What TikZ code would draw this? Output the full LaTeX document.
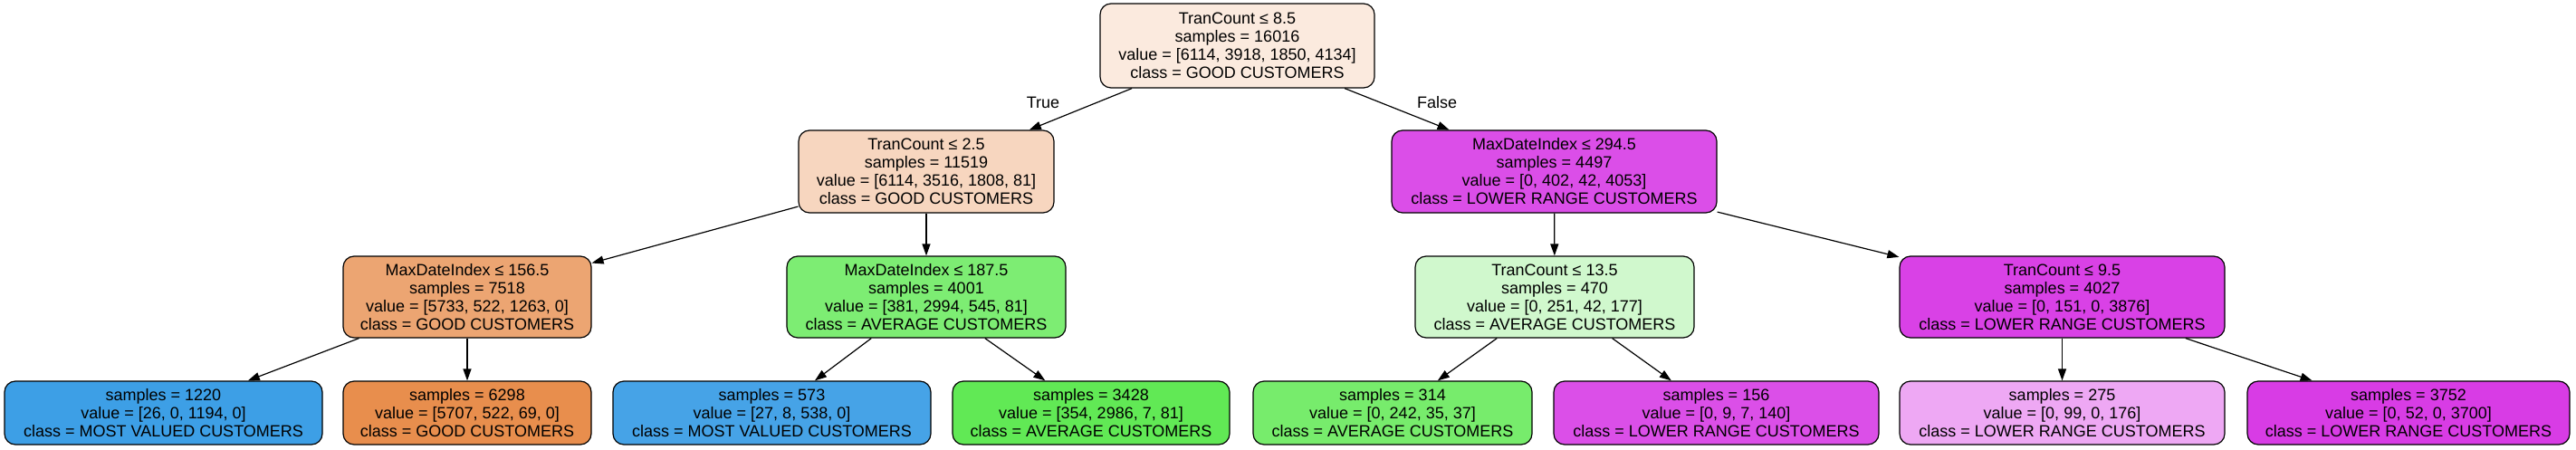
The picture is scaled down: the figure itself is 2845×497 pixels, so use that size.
\documentclass[tikz,border=0pt]{standalone}
\usepackage{fontspec}
\setmainfont{Liberation Sans}
\usetikzlibrary{arrows.meta}
\definecolor{cRoot}{HTML}{FBEADE}
\definecolor{cLa}{HTML}{F7D6BF}
\definecolor{cLb}{HTML}{DB4EE8}
\definecolor{cMa}{HTML}{ECA572}
\definecolor{cMb}{HTML}{7DED73}
\definecolor{cMc}{HTML}{D0F8CD}
\definecolor{cMd}{HTML}{D941E6}
\definecolor{cFa}{HTML}{3D9FE6}
\definecolor{cFb}{HTML}{E88E4D}
\definecolor{cFc}{HTML}{46A3E7}
\definecolor{cFd}{HTML}{61E955}
\definecolor{cFe}{HTML}{77EC6C}
\definecolor{cFf}{HTML}{DB4FE8}
\definecolor{cFg}{HTML}{EEA8F4}
\definecolor{cFh}{HTML}{D83CE5}
\tikzset{
  treebox/.style={draw=black, line width=1.2pt, rounded corners=12pt, align=center,
    inner sep=0pt, font=\fontsize{18}{20}\selectfont},
  splitbox/.style={treebox, minimum height=91pt},
  leafbox/.style={treebox, minimum height=70pt},
  edge/.style={line width=1.2pt, -{Triangle[length=13pt,width=9pt]}},
  edgelabel/.style={font=\fontsize{18}{20}\selectfont, inner sep=0pt}
}
\begin{document}
\begin{tikzpicture}[x=1pt,y=-1pt]
\useasboundingbox (0,0) rectangle (2845,497);
% level 1
\node[treebox, fill=cRoot, minimum width=303pt, minimum height=93pt] (root) at (1366.5,50.5)
  {TranCount ≤ 8.5\\samples = 16016\\value = [6114, 3918, 1850, 4134]\\class = GOOD CUSTOMERS};
% level 2
\node[splitbox, fill=cLa, minimum width=282pt] (la) at (1023,189.5)
  {TranCount ≤ 2.5\\samples = 11519\\value = [6114, 3516, 1808, 81]\\class = GOOD CUSTOMERS};
\node[splitbox, fill=cLb, minimum width=359pt] (lb) at (1716.5,189.5)
  {MaxDateIndex ≤ 294.5\\samples = 4497\\value = [0, 402, 42, 4053]\\class = LOWER RANGE CUSTOMERS};
% level 3
\node[splitbox, fill=cMa, minimum width=274pt, minimum height=90pt] (ma) at (516,328)
  {MaxDateIndex ≤ 156.5\\samples = 7518\\value = [5733, 522, 1263, 0]\\class = GOOD CUSTOMERS};
\node[splitbox, fill=cMb, minimum width=308pt, minimum height=90pt] (mb) at (1023,328)
  {MaxDateIndex ≤ 187.5\\samples = 4001\\value = [381, 2994, 545, 81]\\class = AVERAGE CUSTOMERS};
\node[splitbox, fill=cMc, minimum width=308pt, minimum height=90pt] (mc) at (1717,328)
  {TranCount ≤ 13.5\\samples = 470\\value = [0, 251, 42, 177]\\class = AVERAGE CUSTOMERS};
\node[splitbox, fill=cMd, minimum width=359pt, minimum height=90pt] (md) at (2277.5,328)
  {TranCount ≤ 9.5\\samples = 4027\\value = [0, 151, 0, 3876]\\class = LOWER RANGE CUSTOMERS};
% leaves
\node[leafbox, fill=cFa, minimum width=351pt] (fa) at (180.5,456)
  {samples = 1220\\value = [26, 0, 1194, 0]\\class = MOST VALUED CUSTOMERS};
\node[leafbox, fill=cFb, minimum width=274pt] (fb) at (516,456)
  {samples = 6298\\value = [5707, 522, 69, 0]\\class = GOOD CUSTOMERS};
\node[leafbox, fill=cFc, minimum width=351pt] (fc) at (852.5,456)
  {samples = 573\\value = [27, 8, 538, 0]\\class = MOST VALUED CUSTOMERS};
\node[leafbox, fill=cFd, minimum width=306pt] (fd) at (1205,456)
  {samples = 3428\\value = [354, 2986, 7, 81]\\class = AVERAGE CUSTOMERS};
\node[leafbox, fill=cFe, minimum width=308pt] (fe) at (1538,456)
  {samples = 314\\value = [0, 242, 35, 37]\\class = AVERAGE CUSTOMERS};
\node[leafbox, fill=cFf, minimum width=359pt] (ff) at (1895.5,456)
  {samples = 156\\value = [0, 9, 7, 140]\\class = LOWER RANGE CUSTOMERS};
\node[leafbox, fill=cFg, minimum width=359pt] (fg) at (2277.5,456)
  {samples = 275\\value = [0, 99, 0, 176]\\class = LOWER RANGE CUSTOMERS};
\node[leafbox, fill=cFh, minimum width=356pt] (fh) at (2660,456)
  {samples = 3752\\value = [0, 52, 0, 3700]\\class = LOWER RANGE CUSTOMERS};
% edges
\draw[edge] (root) -- (la);
\draw[edge] (root) -- (lb);
\draw[edge] (la) -- (ma);
\draw[edge] (la) -- (mb);
\draw[edge] (lb) -- (mc);
\draw[edge] (lb) -- (md);
\draw[edge] (ma) -- (fa);
\draw[edge] (ma) -- (fb);
\draw[edge] (mb) -- (fc);
\draw[edge] (mb) -- (fd);
\draw[edge] (mc) -- (fe);
\draw[edge] (mc) -- (ff);
\draw[edge] (md) -- (fg);
\draw[edge] (md) -- (fh);
% edge labels
\node[edgelabel] (ltrue) at (1152,113) {True};
\node[edgelabel] (lfalse) at (1587,113) {False};
\end{tikzpicture}
\end{document}
